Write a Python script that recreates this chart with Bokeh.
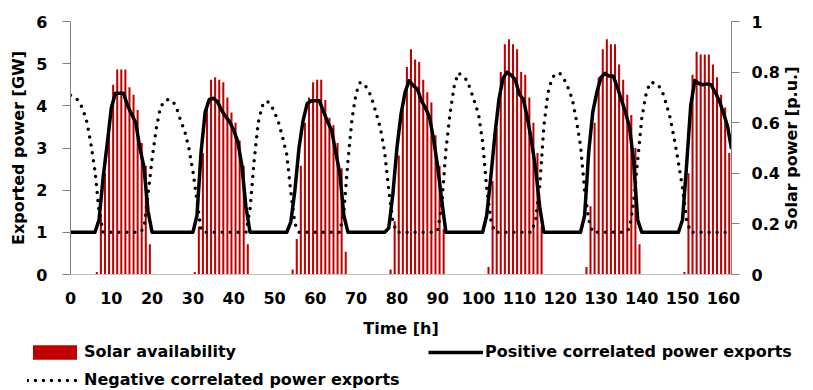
import math
from bokeh.plotting import figure
from bokeh.models import Range1d, LinearAxis, FixedTicker, Legend, LegendItem, ColumnDataSource
from bokeh.transform import dodge
from bokeh.embed import file_html
from bokeh.resources import INLINE

# ---------------- data ----------------
hours_line = list(range(163))
hours_bar = list(range(162))

# Solar availability [p.u.] (bars), hours 0..161
solar = (
    [0, 0, 0, 0, 0, 0]
    + [0.01, 0.24, 0.40, 0.57, 0.75, 0.81, 0.81, 0.81, 0.74, 0.71, 0.65, 0.52, 0.43, 0.12]
    + [0, 0, 0, 0, 0, 0, 0, 0, 0, 0]
    + [0.01, 0.19, 0.48, 0.68, 0.77, 0.78, 0.77, 0.76, 0.70, 0.64, 0.60, 0.53, 0.43, 0.12]
    + [0, 0, 0, 0, 0, 0, 0, 0, 0, 0]
    + [0.02, 0.14, 0.43, 0.60, 0.70, 0.76, 0.77, 0.77, 0.69, 0.62, 0.59, 0.52, 0.42, 0.09]
    + [0, 0, 0, 0, 0, 0, 0, 0, 0, 0]
    + [0.02, 0.21, 0.47, 0.65, 0.82, 0.89, 0.85, 0.84, 0.77, 0.72, 0.68, 0.55, 0.43, 0.18]
    + [0, 0, 0, 0, 0, 0, 0, 0, 0, 0]
    + [0.03, 0.37, 0.58, 0.80, 0.91, 0.93, 0.91, 0.89, 0.80, 0.79, 0.70, 0.60, 0.48, 0.19]
    + [0, 0, 0, 0, 0, 0, 0, 0, 0, 0]
    + [0.03, 0.27, 0.60, 0.78, 0.89, 0.93, 0.91, 0.91, 0.83, 0.77, 0.71, 0.63, 0.50, 0.12]
    + [0, 0, 0, 0, 0, 0, 0, 0, 0, 0]
    + [0.01, 0.40, 0.79, 0.88, 0.87, 0.87, 0.87, 0.83, 0.78, 0.71, 0.66, 0.48]
)

# Positive correlated power exports [GW], hours 0..162
positive = (
    [1, 1, 1, 1, 1, 1]
    + [1.0, 1.3, 2.3, 3.1, 3.95, 4.3, 4.3, 4.3, 4.0, 3.8, 3.6, 3.0, 2.55, 1.5]
    + [1, 1, 1, 1, 1, 1, 1, 1, 1, 1]
    + [1.0, 1.4, 2.9, 3.85, 4.15, 4.18, 4.1, 3.9, 3.75, 3.62, 3.42, 3.15, 2.58, 1.6]
    + [1, 1, 1, 1, 1, 1, 1, 1, 1, 1]
    + [1.25, 2.0, 3.0, 3.65, 4.05, 4.12, 4.12, 4.12, 3.87, 3.62, 3.42, 2.9, 2.4, 1.4]
    + [1, 1, 1, 1, 1, 1, 1, 1, 1, 1]
    + [1.1, 1.9, 3.0, 3.8, 4.32, 4.6, 4.48, 4.4, 4.12, 3.95, 3.73, 3.2, 2.55, 1.75]
    + [1, 1, 1, 1, 1, 1, 1, 1, 1, 1]
    + [1.4, 2.3, 3.3, 4.15, 4.65, 4.8, 4.73, 4.62, 4.28, 4.15, 3.7, 3.15, 2.5, 1.6]
    + [1, 1, 1, 1, 1, 1, 1, 1, 1, 1]
    + [1.4, 2.9, 3.85, 4.32, 4.67, 4.77, 4.71, 4.71, 4.44, 4.15, 3.85, 3.5, 2.7, 1.3]
    + [1, 1, 1, 1, 1, 1, 1, 1, 1, 1]
    + [1.3, 2.6, 4.0, 4.6, 4.53, 4.5, 4.52, 4.5, 4.32, 4.12, 3.84, 3.53, 2.98]
)

# Negative correlated power exports [GW], hours 0..162
negative = (
    [4.25, 4.2, 4.12, 3.93, 3.62, 3.1, 2.45, 1.5, 1.0]
    + [1, 1, 1, 1, 1, 1, 1, 1, 1]
    + [1.1, 1.9, 2.75, 3.45, 3.95, 4.12, 4.15, 4.12, 3.95, 3.65, 3.4, 3.0, 2.45, 1.75, 1.05]
    + [1, 1, 1, 1, 1, 1, 1, 1, 1, 1, 1]
    + [1.55, 2.7, 3.6, 4.0, 4.12, 4.05, 3.85, 3.6, 3.25, 2.85, 1.95, 1.2]
    + [1, 1, 1, 1, 1, 1, 1, 1, 1, 1, 1]
    + [1.5, 2.7, 3.7, 4.3, 4.56, 4.5, 4.38, 4.12, 3.8, 3.45, 2.9, 2.0, 1.25]
    + [1, 1, 1, 1, 1, 1, 1, 1, 1, 1]
    + [1.05, 1.65, 2.95, 3.8, 4.45, 4.78, 4.72, 4.62, 4.4, 4.1, 3.8, 3.15, 2.05, 1.3]
    + [1, 1, 1, 1, 1, 1, 1, 1, 1, 1]
    + [1.3, 2.1, 3.5, 4.3, 4.65, 4.77, 4.76, 4.63, 4.42, 4.15, 3.65, 3.05, 2.0, 1.3]
    + [1, 1, 1, 1, 1, 1, 1, 1, 1]
    + [1.1, 1.7, 2.7, 3.7, 4.25, 4.55, 4.55, 4.5, 4.35, 4.05, 3.7, 3.2, 2.65, 2.05, 1.3]
    + [1, 1, 1, 1, 1, 1, 1, 1, 1, 1, 1]
)

x_ticks = [0, 10, 20, 30, 40, 50, 60, 70, 80, 90, 100, 110, 120, 130, 140, 150, 160]
left_ticks = [0, 1, 2, 3, 4, 5, 6]
right_ticks = [0, 0.2, 0.4, 0.6, 0.8, 1]

labels = ["Solar availability", "Positive correlated power exports",
          "Negative correlated power exports"]

FONT = "DejaVu Sans"
BAR_COLOR = "#C00000"

bar_src = ColumnDataSource(dict(hour=hours_bar, solar=solar))
line_src = ColumnDataSource(dict(hour=hours_line, pos=positive, neg=negative))

# ---------------- main chart ----------------
p = figure(width=813, height=340, x_range=Range1d(0, 162), y_range=Range1d(0, 6),
           output_backend="svg", toolbar_location=None,
           min_border_left=70, min_border_right=76, min_border_top=21, min_border_bottom=66)
p.extra_y_ranges = {"pu": Range1d(0, 1)}

p.vbar(x=dodge("hour", 0.45), top="solar", width=0.5, y_range_name="pu",
       fill_color=BAR_COLOR, line_color=None, source=bar_src)
p.line("hour", "neg", line_color="black", line_width=3.5,
       line_dash="0 8", line_cap="round", source=line_src)
p.line("hour", "pos", line_color="black", line_width=3.5, line_join="round", source=line_src)

right = LinearAxis(y_range_name="pu", ticker=FixedTicker(ticks=right_ticks),
                   axis_label="\u00a0" * 8 + "Solar power [p.u.]")
right.major_label_overrides = {0: "0", 1: "1"}
right.axis_label_orientation = math.pi / 2
right.axis_label_align = "start"
right.axis_label_text_baseline = "top"
p.add_layout(right, "right")

p.xaxis.ticker = FixedTicker(ticks=x_ticks)
p.xaxis.axis_label = "Time [h]"
p.yaxis[0].ticker = FixedTicker(ticks=left_ticks)
p.yaxis[0].axis_label = "Exported power [GW]"

for ax in [p.xaxis[0], p.yaxis[0], right]:
    ax.major_label_text_font = FONT
    ax.major_label_text_font_style = "bold"
    ax.major_label_text_font_size = "16px"
    ax.major_label_text_color = "black"
    ax.axis_label_text_font = FONT
    ax.axis_label_text_font_style = "bold"
    ax.axis_label_text_font_size = "16px"
    ax.axis_label_text_color = "black"
    ax.minor_tick_line_color = None
    ax.major_tick_in = 0

p.xaxis[0].major_tick_line_color = None
p.xaxis[0].major_tick_out = 0
p.xaxis[0].axis_line_color = "#bfbfbf"
p.xaxis[0].major_label_standoff = 17
p.xaxis[0].axis_label_standoff = 12

for ax in [p.yaxis[0], right]:
    ax.axis_line_color = "#808080"
    ax.major_tick_line_color = "#808080"
    ax.major_tick_out = 8
p.yaxis[0].major_label_standoff = 15
p.yaxis[0].axis_label_standoff = 5
right.major_label_standoff = 12
right.axis_label_standoff = 9

p.grid.visible = False
p.outline_line_color = None

# ---------------- legend strip (key glyphs come from hidden copies of the series) ----------------
leg = figure(width=813, height=50, x_range=Range1d(0, 1), y_range=Range1d(0, 1),
             output_backend="svg", toolbar_location=None,
             x_axis_type=None, y_axis_type=None, min_border=0)
leg.grid.visible = False
leg.outline_line_color = None
k_bar = leg.vbar(x="hour", top="solar", width=0.5, fill_color=BAR_COLOR, line_color=None,
                 source=bar_src, visible=False)
k_pos = leg.line("hour", "pos", line_color="black", line_width=3.5, source=line_src,
                 visible=False)
k_neg = leg.line("hour", "neg", line_color="black", line_width=3.5, line_dash="0 8",
                 line_cap="round", source=line_src, visible=False)

legend = Legend(items=[LegendItem(label=labels[0], renderers=[k_bar]),
                       LegendItem(label=labels[1], renderers=[k_pos]),
                       LegendItem(label=labels[2], renderers=[k_neg])],
                location=(27, 1), orientation="horizontal", ncols=2,
                glyph_width=55, glyph_height=18, label_height=18, label_standoff=2,
                spacing=9, padding=0, margin=0, label_width=335,
                border_line_color=None, background_fill_alpha=0,
                inactive_fill_alpha=0,
                label_text_font=FONT, label_text_font_style="bold",
                label_text_font_size="16px", label_text_color="black")
leg.add_layout(legend, "center")

open("out.html", "w").write(file_html([p, leg], INLINE))
